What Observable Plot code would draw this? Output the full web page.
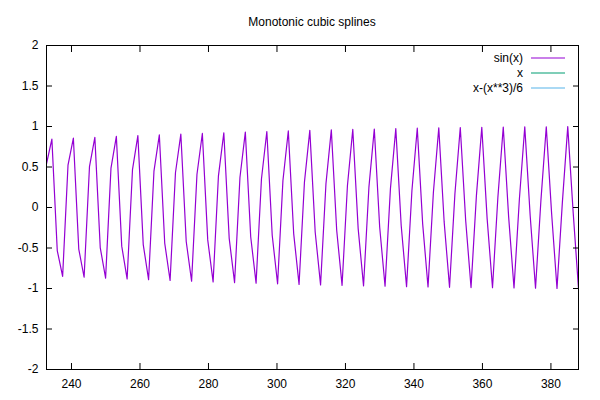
<!DOCTYPE html>
<html><head><meta charset="utf-8">
<script src="https://cdn.jsdelivr.net/npm/d3@7"></script>
<script src="https://cdn.jsdelivr.net/npm/@observablehq/plot@0.6"></script>
<style>html,body{margin:0;padding:0;background:#fff} svg{display:block}</style>
</head><body><div id="chart"></div>
<script>
const title = "Monotonic cubic splines";
const seriesNames = ["sin(x)", "x", "x-(x**3)/6"];
const seriesColors = ["#9400d3", "#009e73", "#56b4e9"];
const xTicks = [240, 260, 280, 300, 320, 340, 360, 380];
const yTicks = [-2, -1.5, -1, -0.5, 0, 0.5, 1, 1.5, 2];
const xDomain = [232.7, 388.05];
const yDomain = [-2, 2];

const sampleX = [
 232.70,234.27,235.84,237.41,238.98,240.55,242.12,243.68,245.25,246.82,
 248.39,249.96,251.53,253.10,254.67,256.24,257.81,259.38,260.95,262.51,
 264.08,265.65,267.22,268.79,270.36,271.93,273.50,275.07,276.64,278.21,
 279.78,281.35,282.91,284.48,286.05,287.62,289.19,290.76,292.33,293.90,
 295.47,297.04,298.61,300.18,301.74,303.31,304.88,306.45,308.02,309.59,
 311.16,312.73,314.30,315.87,317.44,319.01,320.58,322.14,323.71,325.28,
 326.85,328.42,329.99,331.56,333.13,334.70,336.27,337.84,339.41,340.97,
 342.54,344.11,345.68,347.25,348.82,350.39,351.96,353.53,355.10,356.67,
 358.24,359.81,361.37,362.94,364.51,366.08,367.65,369.22,370.79,372.36,
 373.93,375.50,377.07,378.64,380.20,381.77,383.34,384.91,386.48,388.05
];
const sinValues = [
 0.540,0.844,-0.531,-0.850,0.522,0.856,-0.513,-0.861,0.504,0.866,
 -0.495,-0.871,0.486,0.877,-0.477,-0.882,0.467,0.887,-0.458,-0.891,
 0.448,0.896,-0.439,-0.901,0.429,0.905,-0.420,-0.910,0.410,0.914,
 -0.400,-0.918,0.391,0.923,-0.381,-0.927,0.371,0.931,-0.361,-0.934,
 0.352,0.938,-0.342,-0.942,0.332,0.945,-0.322,-0.949,0.312,0.952,
 -0.302,-0.955,0.291,0.958,-0.281,-0.961,0.271,0.964,-0.261,-0.967,
 0.251,0.969,-0.240,-0.972,0.230,0.974,-0.220,-0.977,0.210,0.979,
 -0.199,-0.981,0.189,0.983,-0.178,-0.985,0.168,0.987,-0.158,-0.988,
 0.147,0.990,-0.137,-0.991,0.126,0.993,-0.116,-0.994,0.105,0.995,
 -0.095,-0.996,0.084,0.997,-0.073,-0.998,0.063,0.998,-0.052,-0.999
];

const data = sampleX.map((x, i) => ({x, y: sinValues[i]}));
const fmt = d => String(d);

const chart = Plot.plot({
  width: 600, height: 400,
  marginLeft: 46, marginRight: 22, marginTop: 45, marginBottom: 31,
  style: {fontFamily: "'Liberation Sans', Arial, sans-serif", fontSize: "12px", color: "#000", background: "#fff"},
  x: {domain: xDomain},
  y: {domain: yDomain},
  marks: [
    Plot.line(data, {x: "x", y: "y", stroke: seriesColors[0], strokeWidth: 1.2, clip: true}),
    Plot.frame({stroke: "#000", strokeWidth: 1}),
    Plot.axisX(xTicks, {anchor: "bottom", tickSize: -6, tickPadding: 16, tickFormat: fmt, label: null}),
    Plot.axisX(xTicks, {anchor: "top", tickSize: -6, tickFormat: () => "", label: null}),
    Plot.axisY(yTicks, {anchor: "left", tickSize: -6, tickPadding: 14, tickFormat: fmt, label: null}),
    Plot.axisY(yTicks, {anchor: "right", tickSize: -6, tickFormat: () => "", label: null})
  ]
});
document.getElementById("chart").appendChild(chart);

const svg = d3.select(chart);
svg.append("text")
  .attr("x", 312).attr("y", 26)
  .attr("text-anchor", "middle")
  .attr("fill", "#000")
  .text(title);

const leg = svg.append("g");
seriesNames.forEach((name, i) => {
  const y = 58 + i * 15;
  leg.append("text").attr("x", 523).attr("y", y).attr("dy", "0.35em")
    .attr("text-anchor", "end").attr("fill", "#000").text(name);
  leg.append("line").attr("x1", 531).attr("x2", 565).attr("y1", y).attr("y2", y)
    .attr("stroke", seriesColors[i]).attr("stroke-width", 1.2);
});
</script>
</body></html>
